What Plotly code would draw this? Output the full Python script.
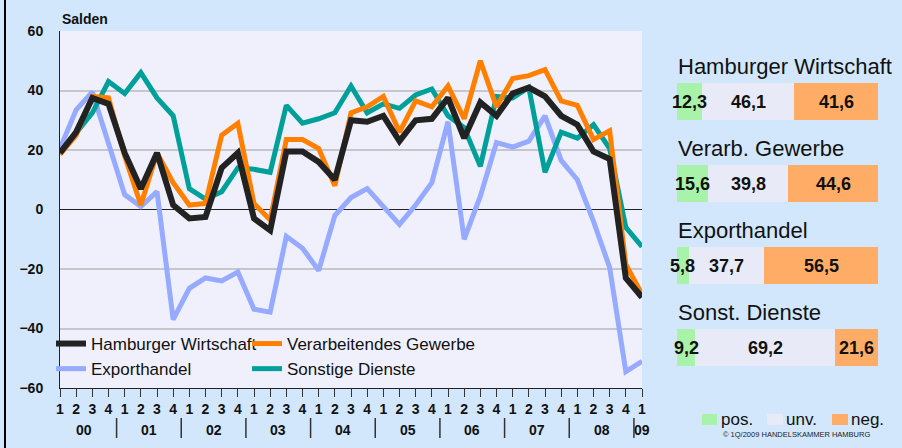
import plotly.graph_objects as go

# ---------------- data ----------------
quarters = ["1", "2", "3", "4"] * 9 + ["1"]
years = ["00", "01", "02", "03", "04", "05", "06", "07", "08", "09"]

hamburger = [19, 26, 37.5, 35.5, 19, 7, 19, 1.5, -3, -2.5, 14, 19, -3, -7, 19.5, 19.5,
             16, 10, 30, 29.5, 31.5, 23, 30, 30.5, 37.5, 24, 36, 31.5, 39, 41, 38, 31.5,
             28.5, 19.5, 17, -23, -29.5]
verarb = [18.5, 25, 38, 37.5, 18, 1.5, 19, 9, 1.5, 2, 25, 29, 2, -3.5, 23.5, 23.5,
          20.5, 8, 32.5, 34.5, 38, 26, 36.5, 34.5, 41.5, 30.5, 50, 34.5, 44, 45, 47, 36.5,
          35, 23.5, 26.5, -18.5, -28.5]
export = [20.5, 33.5, 39.5, 22, 5, 1, 6, -37, -26.5, -23, -24, -21, -33.5, -34.5, -9, -13,
          -20.5, -2, 4, 7, 1, -5, 1.5, 9, 29.5, -10, 4.5, 22.5, 21, 23, 31.5, 16.5,
          10, -4, -19.5, -54.5, -51]
sonstige = [19, 26, 32.5, 43, 39, 46, 37.5, 31.5, 7, 3.5, 6, 14, 13.5, 12.5, 35, 29,
            30.5, 32.5, 41.5, 32.5, 35.5, 34, 38.5, 40.5, 31.5, 27.5, 14.5, 38, 37.5, 41, 12.5, 26,
            24, 28.5, 20.5, -6, -12.5]

bar_titles = ["Hamburger Wirtschaft", "Verarb. Gewerbe", "Exporthandel", "Sonst. Dienste"]
pos_vals = [12.3, 15.6, 5.8, 9.2]
unv_vals = [46.1, 39.8, 37.7, 69.2]
neg_vals = [41.6, 44.6, 56.5, 21.6]
bar_legend = ["pos.", "unv.", "neg."]

# ---------------- style ----------------
PAGE_W, PAGE_H = 902, 448
OFF = 8                      # default body margin of the page
W, H = PAGE_W - 2 * OFF, PAGE_H - 2 * OFF
FONT = "Liberation Sans, Arial, sans-serif"
BG = "#D2E7FB"
PLOTBG = "#F0F0FC"
C_HW = "#222222"
C_VG = "#FF8000"
C_EX = "#96AAFF"
C_SD = "#00A09A"
C_POS = "#A9F2A9"
C_UNV = "#E8EAF7"
C_NEG = "#FFAC66"


def px_x(p):
    """page pixel -> paper fraction"""
    return (p - OFF) / W


def px_y(p):
    return 1 - (p - OFF) / H


x = list(range(len(quarters)))
fig = go.Figure()

# drawing order: light blue at the bottom, black on top
series = [
    ("Exporthandel", export, C_EX, 5, "legend"),
    ("Sonstige Dienste", sonstige, C_SD, 5, "legend2"),
    ("Verarbeitendes Gewerbe", verarb, C_VG, 5, "legend2"),
    ("Hamburger Wirtschaft", hamburger, C_HW, 6, "legend"),
]
for name, vals, col, w, leg in series:
    fig.add_trace(go.Scatter(
        x=x, y=vals, mode="lines", name=name,
        line=dict(color=col, width=w, shape="linear"),
        legend=leg, hoverinfo="skip",
        xaxis="x", yaxis="y",
    ))

annotations = []
shapes = []

# stacked horizontal bars
bar_y = list(range(len(bar_titles)))
fmt = lambda v: f"{v:.1f}".replace(".", ",")
for vals, col in [(pos_vals, C_POS), (unv_vals, C_UNV), (neg_vals, C_NEG)]:
    fig.add_trace(go.Bar(
        x=vals, y=bar_y, orientation="h", marker=dict(color=col, line=dict(width=0)),
        width=0.45, showlegend=False, xaxis="x2", yaxis="y2", hoverinfo="skip",
    ))

# value labels centred in each segment
for i in bar_y:
    start = 0.0
    for vals in (pos_vals, unv_vals, neg_vals):
        v = vals[i]
        annotations.append(dict(
            x=start + v / 2, y=i, xref="x2", yref="y2", text=fmt(v), showarrow=False,
            xanchor="center", yanchor="middle",
            font=dict(family=FONT, size=18, color="#111111", weight="bold"),
        ))
        start += v

# bar titles
for i, t in enumerate(bar_titles):
    annotations.append(dict(
        x=0, y=i - 0.43, xref="x2", yref="y2", text=t, showarrow=False,
        xanchor="left", yanchor="middle", xshift=-1,
        font=dict(family=FONT, size=22, color="#111111"),
    ))

# year labels and separators
for k, yr in enumerate(years):
    xc = 1.5 + 4 * k if k < 9 else 36
    annotations.append(dict(
        x=xc, y=px_y(430), xref="x", yref="paper", text=yr, showarrow=False,
        xanchor="center", yanchor="middle",
        font=dict(family=FONT, size=14, color="#111111", weight="bold"),
    ))
for k in range(9):
    xs = 3.5 + 4 * k
    shapes.append(dict(type="line", xref="x", yref="paper", x0=xs, x1=xs,
                       y0=px_y(438), y1=px_y(418), line=dict(color="#333333", width=1.5)))

# main plot background
shapes.append(dict(type="rect", xref="x domain", yref="y domain", x0=0, x1=1, y0=0, y1=1,
                   fillcolor=PLOTBG, line=dict(width=0), layer="below"))

# "Salden"
annotations.append(dict(
    x=px_x(60), y=px_y(19), xref="paper", yref="paper", text="Salden", showarrow=False,
    xanchor="left", yanchor="middle",
    font=dict(family=FONT, size=14, color="#111111", weight="bold"),
))

# bar legend (manual)
leg_sw = [(702, 717, C_POS, 720), (767, 783, C_UNV, 785), (832, 848, C_NEG, 850)]
for (x0, x1, col, tx), lab in zip(leg_sw, bar_legend):
    shapes.append(dict(type="rect", xref="paper", yref="paper",
                       x0=px_x(x0), x1=px_x(x1), y0=px_y(425), y1=px_y(414),
                       fillcolor=col, line=dict(width=0)))
    annotations.append(dict(
        x=px_x(tx), y=px_y(419), xref="paper", yref="paper", text=lab, showarrow=False,
        xanchor="left", yanchor="middle", borderpad=0,
        font=dict(family=FONT, size=17, color="#111111"),
    ))

# copyright (kept inside the figure area)
annotations.append(dict(
    x=px_x(722), y=px_y(440), xref="paper", yref="paper",
    text="© 1Q/2009 HANDELSKAMMER HAMBURG", showarrow=False, borderpad=0,
    xanchor="left", yanchor="bottom", font=dict(family=FONT, size=7.5, color="#222222"),
))

legend_common = dict(
    bgcolor="rgba(0,0,0,0)", borderwidth=0, orientation="v", traceorder="reversed",
    font=dict(family=FONT, size=17, color="#111111"),
    xanchor="left", yanchor="top", itemwidth=30, tracegroupgap=0,
)

fig.update_layout(
    width=W, height=H, autosize=False,
    margin=dict(l=0, r=0, t=0, b=0, pad=0, autoexpand=False),
    paper_bgcolor=BG, plot_bgcolor="rgba(0,0,0,0)",
    font=dict(family=FONT, color="#111111"),
    barmode="stack",
    showlegend=True,
    legend=dict(x=px_x(51), y=px_y(326), **legend_common),
    legend2=dict(x=px_x(247), y=px_y(326), **legend_common),
    xaxis=dict(
        domain=[px_x(60), px_x(642)], range=[0, 36], anchor="y",
        tickmode="array", tickvals=x, ticktext=quarters,
        ticks="outside", ticklen=8, tickwidth=1, tickcolor="#333333",
        showline=True, linecolor="#222222", linewidth=1, automargin=False,
        showgrid=False, zeroline=False, fixedrange=True, ticklabelstandoff=0,
        tickfont=dict(family=FONT, size=14, color="#111111", weight="bold"),
    ),
    yaxis=dict(
        domain=[px_y(388), px_y(31)], range=[-60, 60], anchor="x",
        tickmode="array", tickvals=[-60, -40, -20, 0, 20, 40, 60],
        showline=True, linecolor="#222222", linewidth=1, automargin=False,
        showgrid=True, gridcolor="#C6C6CC", gridwidth=1.5,
        zeroline=True, zerolinecolor="#222222", zerolinewidth=1,
        ticks="", ticklabelstandoff=13, fixedrange=True,
        tickfont=dict(family=FONT, size=14, color="#111111", weight="bold"),
    ),
    xaxis2=dict(domain=[px_x(677), px_x(878)], range=[0, 100], anchor="y2",
                visible=False, fixedrange=True, automargin=False),
    yaxis2=dict(domain=[px_y(388.5), px_y(60.5)], range=[3.5, -0.5], anchor="x2",
                visible=False, fixedrange=True, automargin=False),
    annotations=annotations,
    shapes=shapes,
)

# page background matches the chart; thin black frame line at the left edge
page_bg = ("linear-gradient(to right, {bg} 0px, {bg} 4px, #000 4px, #000 6px, {bg} 6px)"
           .format(bg=BG))
fig.write_html(
    "out.html",
    config={"displayModeBar": False, "responsive": False},
    post_script=("document.documentElement.style.background='%s';"
                 "document.body.style.background='%s';" % (page_bg, page_bg)),
)
